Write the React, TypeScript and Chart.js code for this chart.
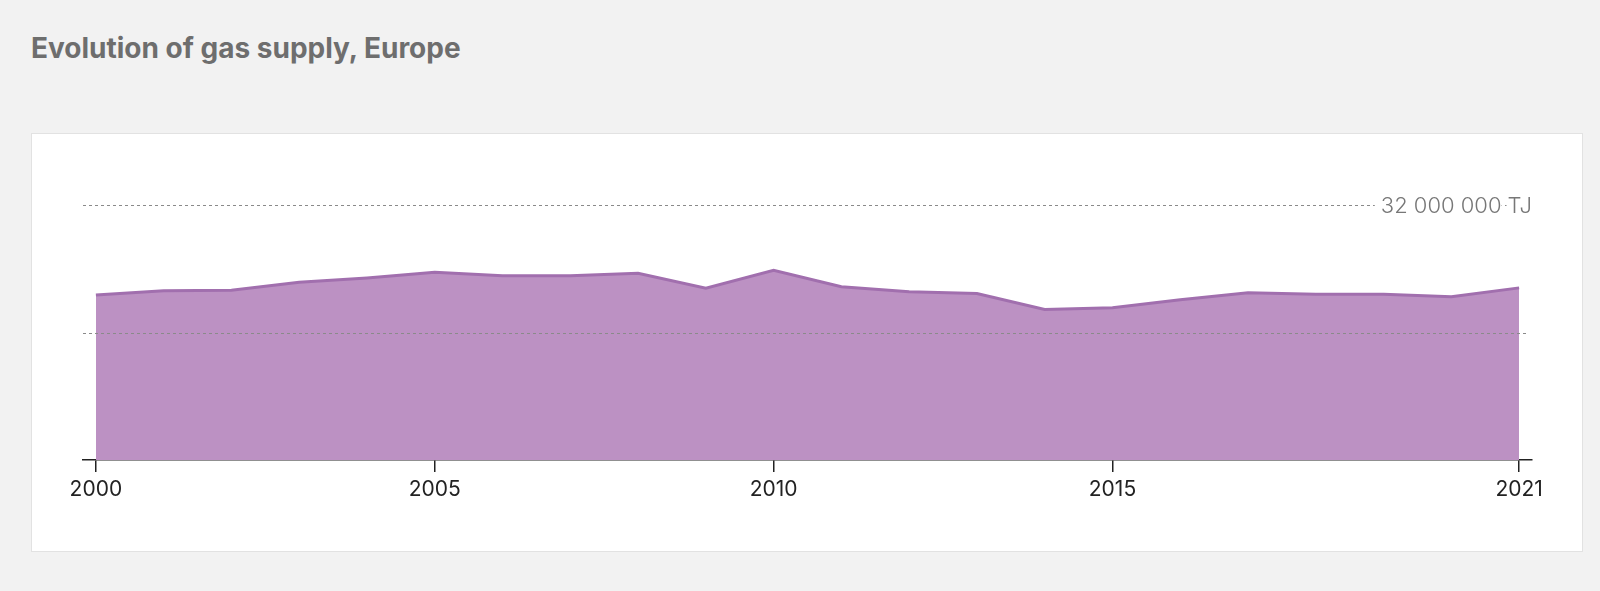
import React, { useEffect, useRef } from "react";
import { Chart, registerables } from "chart.js";

Chart.register(...registerables);

const title = "Evolution of gas supply, Europe";
const years = [2000, 2001, 2002, 2003, 2004, 2005, 2006, 2007, 2008, 2009, 2010, 2011, 2012, 2013, 2014, 2015, 2016, 2017, 2018, 2019, 2020, 2021];
const supplyTJ = [20700000, 21250000, 21300000, 22300000, 22850000, 23550000, 23130000, 23130000, 23430000, 21550000, 23800000, 21750000, 21100000, 20900000, 18900000, 19100000, 20100000, 21000000, 20800000, 20800000, 20500000, 21600000];
const xTicks = [2000, 2005, 2010, 2015, 2021];
const gridValues = [16000000, 32000000];
const topLabelValue = "32 000 000";
const unitLabel = "TJ";

const fillColor = "#bc91c3";
const lineColor = "#a16fae";

export default function App() {
  const canvasRef = useRef<HTMLCanvasElement | null>(null);

  useEffect(() => {
    document.body.style.margin = "0";
    document.body.style.background = "#f2f2f2";
    const canvas = canvasRef.current;
    if (!canvas) return;

    const gridPlugin = {
      id: "dashedGrid",
      afterDatasetsDraw(chart: any) {
        const { ctx, chartArea, scales } = chart;
        const y = scales.y;
        ctx.save();
        ctx.font = "300 22px Inter";
        ctx.textBaseline = "middle";
        const w1 = ctx.measureText(topLabelValue).width;
        const w2 = ctx.measureText(unitLabel).width;
        const gap = 6;
        const right = chartArea.right;
        const labelStart = right - w1 - gap - w2;
        gridValues.forEach((v, i) => {
          const py = Math.round(y.getPixelForValue(v)) + 0.5;
          const isTop = i === gridValues.length - 1;
          ctx.beginPath();
          ctx.setLineDash([3, 3]);
          ctx.strokeStyle = "#8a8a8a";
          ctx.lineWidth = 1;
          ctx.moveTo(chartArea.left, py);
          ctx.lineTo(isTop ? right : right - 4, py);
          ctx.stroke();
          if (isTop) {
            ctx.setLineDash([]);
            ctx.fillStyle = "#ffffff";
            ctx.fillRect(labelStart - 6, py - 13, w1 + 6, 26);
            ctx.fillRect(right - w2 - 1, py - 13, w2 + 2, 26);
            ctx.fillStyle = "#777777";
            ctx.textAlign = "left";
            ctx.fillText(topLabelValue, labelStart, py + 1);
            ctx.fillText(unitLabel, right - w2, py + 1);
          }
        });
        ctx.restore();
      },
    };

    const chart = new Chart(canvas, {
      type: "line",
      data: {
        datasets: [
          {
            data: years.map((yr, i) => ({ x: yr, y: supplyTJ[i] })),
            fill: "origin",
            backgroundColor: fillColor,
            borderColor: lineColor,
            borderWidth: 3,
            pointRadius: 0,
            tension: 0,
          },
        ],
      },
      options: {
        animation: false,
        responsive: false,
        maintainAspectRatio: false,
        layout: { padding: { left: 51, right: 50, top: 71, bottom: 0 } },
        plugins: { legend: { display: false }, tooltip: { enabled: false } },
        scales: {
          x: {
            type: "linear",
            min: 1999.81,
            max: 2021.19,
            afterBuildTicks: (s: any) => {
              s.ticks = xTicks.map((v) => ({ value: v }));
            },
            afterFit: (s: any) => {
              s.height = 91;
            },
            grid: {
              display: true,
              drawOnChartArea: false,
              drawTicks: true,
              tickLength: 12,
              color: "#222222",
              lineWidth: 1.5,
            },
            border: { display: true, color: "#222222", width: 1.5 },
            ticks: {
              autoSkip: false,
              maxRotation: 0,
              padding: 5,
              color: "#222222",
              font: { family: "Inter", size: 21 },
              callback: (v: any) => String(v),
            },
          },
          y: {
            display: false,
            min: 0,
            max: 32000000,
          },
        },
      },
      plugins: [gridPlugin],
    });

    return () => chart.destroy();
  }, []);

  return (
    <div style={{ position: "relative", width: 1600, height: 591, background: "#f2f2f2", overflow: "hidden" }}>
      <div
        style={{
          position: "absolute",
          left: 31,
          top: 30,
          fontFamily: "Inter, sans-serif",
          fontWeight: 700,
          fontSize: 28,
          color: "#6e6e6e",
          lineHeight: "36px",
          whiteSpace: "nowrap",
        }}
      >
        {title}
      </div>
      <div
        style={{
          position: "absolute",
          left: 31,
          top: 133,
          width: 1550,
          height: 417,
          background: "#ffffff",
          border: "1px solid #e2e2e2",
        }}
      >
        <canvas ref={canvasRef} width={1550} height={417} style={{ display: "block", width: 1550, height: 417 }} />
      </div>
    </div>
  );
}
